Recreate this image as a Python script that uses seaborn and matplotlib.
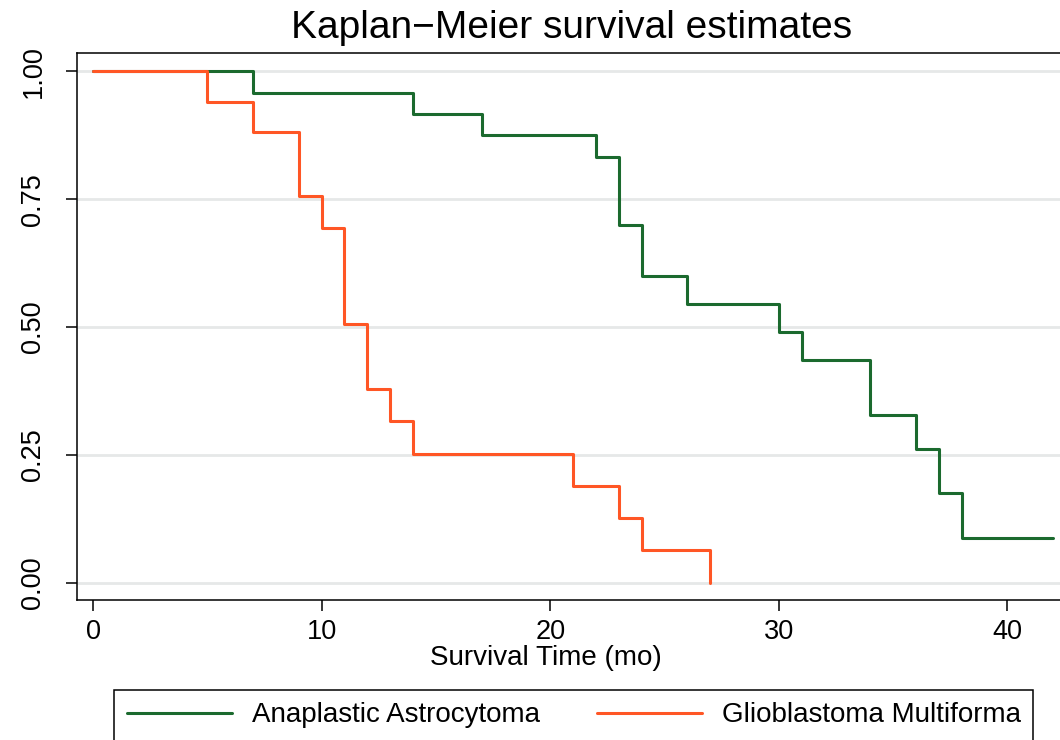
import pandas as pd
import matplotlib.pyplot as plt
import seaborn as sns

# Kaplan-Meier step values
aa_time = [0, 7, 14, 17, 22, 23, 24, 26, 30, 31, 34, 36, 37, 38, 42]
aa_surv = [1.0, 0.958, 0.917, 0.875, 0.833, 0.700, 0.600, 0.545,
           0.491, 0.436, 0.327, 0.262, 0.175, 0.087, 0.087]
gbm_time = [0, 5, 7, 9, 10, 11, 12, 13, 14, 21, 23, 24, 27]
gbm_surv = [1.0, 0.941, 0.882, 0.757, 0.694, 0.505, 0.379, 0.316,
            0.252, 0.189, 0.126, 0.063, 0.0]
groups = ["Anaplastic Astrocytoma", "Glioblastoma Multiforma"]
colors = ["#1b6a2e", "#ff5625"]
yticks = [0, 0.25, 0.5, 0.75, 1.0]
xticks = [0, 10, 20, 30, 40]

df = pd.concat([
    pd.DataFrame({"time": aa_time, "surv": aa_surv, "group": groups[0]}),
    pd.DataFrame({"time": gbm_time, "surv": gbm_surv, "group": groups[1]}),
])

sns.set_style("white")
plt.rcParams["font.family"] = ["Liberation Sans", "DejaVu Sans"]
plt.rcParams.update({"text.color": "black", "axes.labelcolor": "black",
                     "xtick.color": "black", "ytick.color": "black"})

fig = plt.figure(figsize=(10.6, 7.4), dpi=100)
ax = fig.add_axes([77 / 1060, 1 - 600 / 740, 1 - 77 / 1060, (600 - 53) / 740])

for y in yticks:
    ax.axhline(y, color="#e6e8e8", lw=2, zorder=0)

sns.lineplot(data=df, x="time", y="surv", hue="group", hue_order=groups,
             palette=colors, estimator=None, drawstyle="steps-post",
             lw=2.2, ax=ax, legend=False)

ax.set_xlim(-0.7, 42.3)
ax.set_ylim(-0.034, 1.036)
ax.set_xticks(xticks)
ax.set_yticks(yticks)
ax.set_yticklabels([f"{v:.2f}" for v in yticks], rotation=90, va="center")
ax.tick_params(axis="both", direction="out", length=8, width=1.1,
               labelsize=19.5, color="black", bottom=True, left=True)
ax.tick_params(axis="x", pad=6)
ax.tick_params(axis="y", pad=14)
ax.set_ylabel("")
ax.set_xlabel("Survival Time (mo)", fontsize=20)
ax.xaxis.set_label_coords((545.5 - 77) / 983, -0.082)
for side in ["left", "bottom", "top"]:
    ax.spines[side].set_color("black")
    ax.spines[side].set_linewidth(1.1)
ax.spines["right"].set_visible(False)

fig.text(572 / 1060, 1 - 28 / 740, "Kaplan\u2212Meier survival estimates",
         ha="center", va="center", fontsize=28)

handles = [plt.Line2D([], [], color=c, lw=2.2) for c in colors]
fig.legend(handles, groups, loc="upper left", ncol=2, mode="expand",
           bbox_to_anchor=(114 / 1060, 1 - 690 / 740 - 0.1, 919 / 1060, 0.1),
           borderaxespad=0, fontsize=20, frameon=True, fancybox=False,
           edgecolor="black", handlelength=3.8, handletextpad=0.7,
           borderpad=0.45, framealpha=1)
fig.legends[0].get_frame().set_linewidth(1.1)

plt.savefig("out.png", dpi=100)
